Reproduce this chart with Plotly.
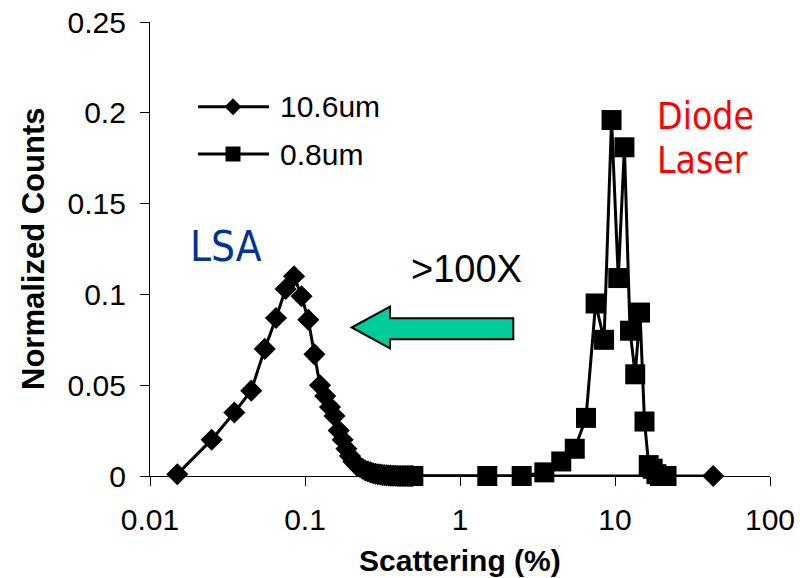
import plotly.graph_objects as go

# ---------------- data ----------------
lsa_x = [0.015, 0.025, 0.035, 0.045, 0.055, 0.065, 0.075, 0.085, 0.095, 0.105,
         0.115, 0.125, 0.135, 0.145, 0.155, 0.165, 0.175, 0.185, 0.195, 0.205,
         0.215, 0.225, 0.235, 0.245, 0.255, 0.265, 0.275, 0.285, 0.295, 0.305,
         0.315, 0.325, 0.335, 0.345, 0.355, 0.365, 0.375, 0.385, 0.395, 0.405,
         0.415, 0.425, 0.435, 0.445, 0.455, 0.465, 0.475, 0.485, 0.495, 43]
lsa_y = [0.001, 0.020, 0.035, 0.047, 0.070, 0.087, 0.103, 0.110, 0.099, 0.086,
         0.067, 0.050, 0.044, 0.038, 0.033, 0.025, 0.020, 0.015, 0.011, 0.008,
         0.006, 0.005, 0.004, 0.003, 0.0025, 0.002, 0.0015, 0.0012, 0.001, 0.0008,
         0.0006, 0.0005, 0.0004, 0.0003, 0.0002, 0.0001, 0.0001, 0.0001, 0, 0,
         0, 0, 0, 0, 0, 0, 0, 0, 0, 0]

diode_x = [0.5, 1.5, 2.5, 3.5, 4.5, 5.5, 6.5, 7.5, 8.5, 9.5, 10.5, 11.5,
           12.5, 13.5, 14.5, 15.5, 16.5, 17.5, 18.5, 19.5, 20.5, 21.5]
diode_y = [0, 0, 0, 0.002, 0.008, 0.015, 0.032, 0.095, 0.075, 0.196, 0.109, 0.181,
           0.080, 0.056, 0.090, 0.030, 0.006, 0.004, 0.001, 0, 0, 0]

series_names = ["10.6um", "0.8um"]
x_tick_vals = [0.01, 0.1, 1, 10, 100]
x_tick_text = ["0.01", "0.1", "1", "10", "100"]
x_title = "Scattering (%)"
y_title = "Normalized Counts"

# ---------------- layout geometry (pixels) ----------------
W, H = 804, 578
L, R, T, B = 150, 34, 22, 102
X0, X1 = L, W - R          # 150 .. 770
Y0, Y1 = H - B, T          # 476 .. 22
PW, PH = X1 - X0, Y0 - Y1


def paper(px, py):
    return (px - X0) / PW, (Y0 - py) / PH


FONT = "Liberation Sans, Arial, sans-serif"
NARROW = "Liberation Sans Narrow, Arial Narrow, DejaVu Sans Condensed, Liberation Sans, sans-serif"

fig = go.Figure()

fig.add_trace(go.Scatter(
    x=lsa_x, y=lsa_y, mode="lines+markers", name=series_names[0],
    line=dict(color="black", width=3),
    marker=dict(symbol="diamond", size=17, color="black"),
    cliponaxis=False, showlegend=False))
fig.add_trace(go.Scatter(
    x=diode_x, y=diode_y, mode="lines+markers", name=series_names[1],
    line=dict(color="black", width=3),
    marker=dict(symbol="square", size=20, color="black"),
    cliponaxis=False, showlegend=False))

# manual legend on a pixel-space overlay axis
leg_rows = [(106.7, "diamond", 13), (154, "square", 15)]
for (ly, sym, sz), nm in zip(leg_rows, series_names):
    fig.add_trace(go.Scatter(x=[198, 269], y=[ly, ly], mode="lines",
                             line=dict(color="black", width=3),
                             xaxis="x2", yaxis="y2", showlegend=False, hoverinfo="skip"))
    fig.add_trace(go.Scatter(x=[233], y=[ly], mode="markers",
                             marker=dict(symbol=sym, size=sz, color="black"),
                             xaxis="x2", yaxis="y2", showlegend=False, hoverinfo="skip",
                             cliponaxis=False))


def ann(text, px, py, font, xanchor="center", textangle=0):
    x, y = paper(px, py)
    return dict(text=text, x=x, y=y, xref="paper", yref="paper", xanchor=xanchor,
                yanchor="middle", showarrow=False, font=font, textangle=textangle)


annotations = [
    ann(series_names[0], 278, 106.7, dict(family=FONT, size=30, color="black"), "left"),
    ann(series_names[1], 278, 154, dict(family=FONT, size=30, color="black"), "left"),
    ann("LSA", 226, 247, dict(family=NARROW, size=42, color="#003399")),
    ann("Diode", 655, 117, dict(family=NARROW, size=37, color="#FF0000"), "left"),
    ann("Laser", 655, 160, dict(family=NARROW, size=37, color="#FF0000"), "left"),
    ann(">100X", 467, 269, dict(family=FONT, size=38, color="black")),
    ann(x_title, 460, 560, dict(family=FONT, size=30, color="black", weight="bold")),
    ann(y_title, 33, 249, dict(family=FONT, size=31, color="black", weight="bold"),
        textangle=-90),
]

# arrow polygon (pixels)
arrow_pts = [(351.7, 327.5), (390, 306.7), (390, 318.3), (513.3, 318.3),
             (513.3, 339.3), (390, 339.3), (390, 348.3)]
path = "M " + " L ".join(f"{x},{y}" for x, y in arrow_pts) + " Z"

axis_common = dict(showline=True, linecolor="black", linewidth=1.3,
                   ticks="outside", ticklen=9, tickwidth=1.3, tickcolor="black",
                   showgrid=False, zeroline=False, automargin=False,
                   tickfont=dict(family=FONT, size=30, color="black"))

fig.update_layout(
    template="none",
    width=W, height=H,
    margin=dict(l=L, r=R, t=T, b=B, autoexpand=False),
    paper_bgcolor="white", plot_bgcolor="white",
    showlegend=False,
    xaxis=dict(type="log", range=[-2, 2], tickvals=x_tick_vals, ticktext=x_tick_text,
               ticklabelstandoff=8, **axis_common),
    yaxis=dict(range=[0, 0.25], tick0=0, dtick=0.05, ticklabelstandoff=8, **axis_common),
    xaxis2=dict(overlaying="x", range=[X0, X1], visible=False, automargin=False),
    yaxis2=dict(overlaying="y", range=[Y0, Y1], visible=False, automargin=False),
    annotations=annotations,
    shapes=[dict(type="path", path=path, xref="x2", yref="y2",
                 fillcolor="#00CC99", line=dict(color="black", width=2))],
)

fig.write_html("out.html", config={"displayModeBar": False},
               post_script="document.body.style.margin='0px';document.body.style.overflow='hidden';")
